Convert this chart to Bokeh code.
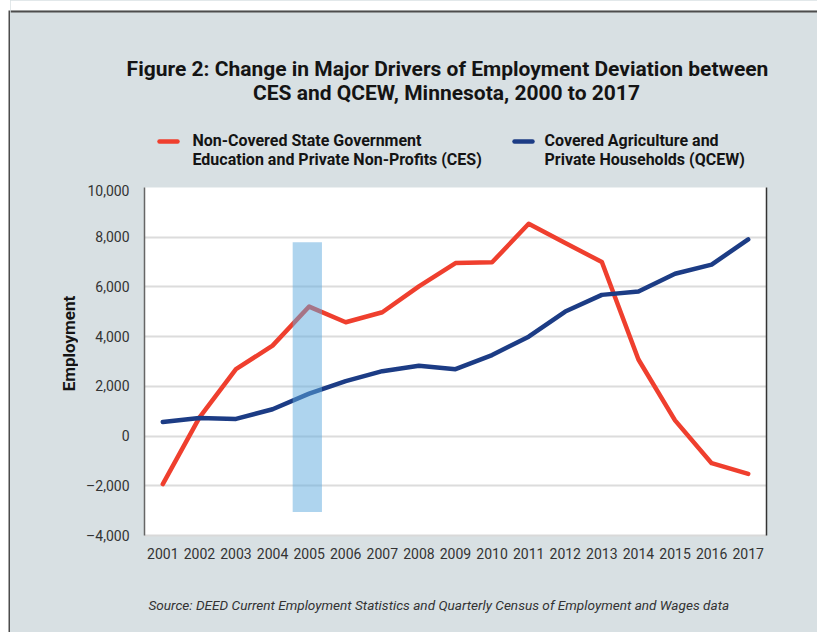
import math
from bokeh.plotting import figure
from bokeh.layouts import row, column
from bokeh.models import (Label, LinearAxis, FixedTicker, Range1d)
from bokeh.embed import file_html
from bokeh.resources import INLINE

# ---------------- data ----------------
years = list(range(2001, 2018))
year_labels = [str(y) for y in years]
ces = [-1930, 740, 2690, 3640, 5210, 4580, 4980, 6020, 6960, 6990,
       8540, 7770, 7000, 3080, 630, -1090, -1520]
qcew = [570, 730, 690, 1080, 1710, 2210, 2610, 2830, 2690, 3260,
        4000, 5010, 5680, 5820, 6530, 6900, 7910]
highlight_x = [2004.55, 2005.35]
highlight_y = [-3050, 7800]
y_ticks = [-4000, -2000, 0, 2000, 4000, 6000, 8000, 10000]
y_tick_labels = ["\u20134,000", "\u20132,000", "0", "2,000", "4,000", "6,000", "8,000", "10,000"]

title_lines = ["Figure 2: Change in Major Drivers of Employment Deviation between",
               "CES and QCEW, Minnesota, 2000 to 2017"]
legend_ces = ["Non-Covered State Government", "Education and Private Non-Profits (CES)"]
legend_qcew = ["Covered Agriculture and", "Private Households (QCEW)"]
y_title = "Employment"
source = "Source: DEED Current Employment Statistics and Quarterly Census of Employment and Wages data"

# ---------------- style ----------------
PANEL = "#d8e0e3"
RED = "#ef3f2e"
BLUE = "#1c3c85"
EDGE = "#4d4d4d"
FONT = "Roboto"
TXT = "#141414"

PAGE_W, PAGE_H = 817, 632
STRIP_W = 10
LABEL_R = 78                       # right edge of the y-title column (page px)
TOP_H, MAIN_H = 182, 388
BOT_H = PAGE_H - TOP_H - MAIN_H
FL, FR, FT, FB = 144, 766, 187, 535   # plot frame in page px


def blank(width, height, x0, x1, y0, y1, bg):
    f = figure(width=width, height=height, output_backend="svg", toolbar_location=None,
               x_range=Range1d(x0, x1), y_range=Range1d(y1, y0),
               min_border=0, outline_line_color=None, frame_align=False)
    f.axis.visible = False
    f.grid.visible = False
    f.background_fill_color = bg
    f.border_fill_color = bg
    return f


def add_label(f, txt, px, py, size, style="bold", align="left", color=TXT,
              baseline="alphabetic", angle=0.0):
    f.add_layout(Label(x=px, y=py, text=txt, text_font=FONT, text_font_size=size,
                       text_font_style=style, text_align=align, text_baseline=baseline,
                       text_color=color, angle=angle))


# left white strip with the panel's dark edge
strip = blank(STRIP_W, PAGE_H, 0, STRIP_W, 0, PAGE_H, "white")
strip.quad(left=[8], right=[STRIP_W], top=[10], bottom=[PAGE_H], fill_color=EDGE, line_color=None)

# top panel: title and legend
top = blank(PAGE_W - STRIP_W, TOP_H, STRIP_W, PAGE_W, 0, TOP_H, PANEL)
top.quad(left=[STRIP_W], right=[PAGE_W], top=[0], bottom=[10], fill_color="white", line_color=None)
top.quad(left=[STRIP_W], right=[PAGE_W], top=[10], bottom=[12], fill_color=EDGE, line_color=None)
add_label(top, title_lines[0], 447, 68, "21px", align="center")
add_label(top, title_lines[1], 446, 92, "21px", align="center")
top.segment(x0=[159, 514], x1=[177, 532], y0=[141, 141], y1=[141, 141],
            line_color=[RED, BLUE], line_width=4.5, line_cap="round")
add_label(top, legend_ces[0], 192, 140, "16px")
add_label(top, legend_ces[1], 192, 159, "16px")
add_label(top, legend_qcew[0], 544, 140, "16px")
add_label(top, legend_qcew[1], 544, 159, "16px")

# y-axis title column
ylab = blank(LABEL_R - STRIP_W, MAIN_H, STRIP_W, LABEL_R, TOP_H, TOP_H + MAIN_H, PANEL)
add_label(ylab, y_title, 68, 343, "17px", align="center", baseline="middle", angle=math.pi / 2)

# main plot
p = figure(width=PAGE_W - LABEL_R, height=MAIN_H, output_backend="svg", toolbar_location=None,
           x_range=Range1d(2000.5, 2017.5), y_range=Range1d(-4000, 10000),
           min_border_left=FL - LABEL_R, min_border_right=PAGE_W - FR,
           min_border_top=FT - TOP_H, min_border_bottom=TOP_H + MAIN_H - FB,
           frame_align=False)
p.border_fill_color = PANEL
p.background_fill_color = "white"
p.outline_line_color = None

p.xaxis.ticker = FixedTicker(ticks=years)
p.xaxis.major_label_overrides = {y: l for y, l in zip(years, year_labels)}
p.yaxis.ticker = FixedTicker(ticks=y_ticks)
p.yaxis.major_label_overrides = {t: l for t, l in zip(y_ticks, y_tick_labels)}
for ax in (p.xaxis, p.yaxis):
    ax.major_tick_line_color = None
    ax.minor_tick_line_color = None
    ax.major_label_text_font = FONT
    ax.major_label_text_font_size = "14px"
    ax.major_label_text_color = "#333333"
p.xaxis.axis_line_color = "#d9d9d9"
p.xaxis.axis_line_width = 2
p.xaxis.major_label_standoff = 6
p.yaxis.axis_line_color = "#666666"
p.yaxis.axis_line_width = 1.5
p.yaxis.major_label_standoff = 9

rax = LinearAxis(ticker=FixedTicker(ticks=[]), major_label_text_font_size="0px",
                 axis_line_color="#333333", axis_line_width=1.5,
                 major_tick_line_color=None, minor_tick_line_color=None)
p.add_layout(rax, "right")

p.xgrid.grid_line_color = None
p.ygrid.grid_line_color = "#dcdcdc"
p.ygrid.grid_line_width = 2

p.line(years, ces, line_color=RED, line_width=4.5, line_cap="round", line_join="round")
p.line(years, qcew, line_color=BLUE, line_width=4.5, line_cap="round", line_join="round")
p.quad(left=[highlight_x[0]], right=[highlight_x[1]], bottom=[highlight_y[0]], top=[highlight_y[1]],
       fill_color="#5da9dd", fill_alpha=0.5, line_color=None)

# bottom panel: source
bot = blank(PAGE_W - STRIP_W, BOT_H, STRIP_W, PAGE_W, TOP_H + MAIN_H, PAGE_H, PANEL)
add_label(bot, source, 148, 604, "13.6px", style="italic", color="#333333")

middle = row(ylab, p, spacing=0, styles={"background-color": PANEL})
col = column(top, middle, bot, spacing=0, styles={"background-color": PANEL})
layout = row(strip, col, spacing=0, styles={"background-color": "white"})
open("out.html", "w").write(file_html(layout, INLINE))
